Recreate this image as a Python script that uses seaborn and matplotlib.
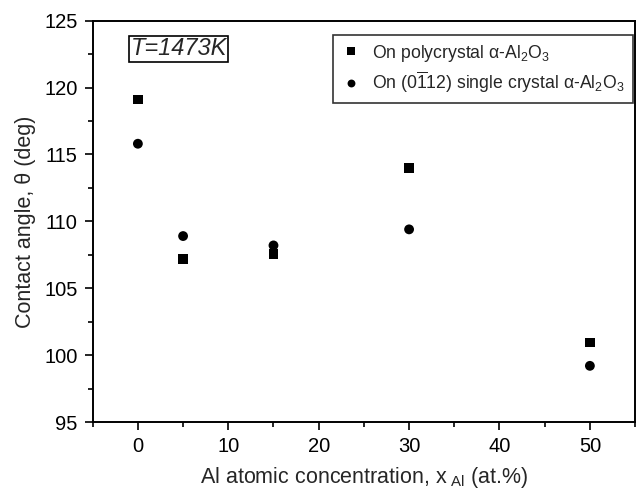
import matplotlib
matplotlib.use("Agg")
import matplotlib.pyplot as plt
import seaborn as sns
import pandas as pd
from matplotlib.ticker import MultipleLocator

# data
x_al = [0, 5, 15, 30, 50]
poly_angle = [119.1, 107.2, 107.55, 114.0, 100.95]
single_angle = [115.8, 108.9, 108.2, 109.4, 99.2]
label_poly = r'On polycrystal α-Al$_2$O$_3$'
label_single = r'On (0$\overline{1}$12) single crystal α-Al$_2$O$_3$'

sns.set_theme(style="ticks")
plt.rcParams['font.family'] = ['Liberation Sans', 'DejaVu Sans']
plt.rcParams['mathtext.fontset'] = 'custom'
plt.rcParams['mathtext.rm'] = 'Liberation Sans'
plt.rcParams['mathtext.it'] = 'Liberation Sans:italic'
plt.rcParams['mathtext.bf'] = 'Liberation Sans:bold'
plt.rcParams['mathtext.default'] = 'regular'

df = pd.DataFrame({
    'x': x_al + x_al,
    'y': poly_angle + single_angle,
    'series': [label_poly] * len(x_al) + [label_single] * len(x_al),
})

fig = plt.figure(figsize=(6.37, 4.94), dpi=100)
ax = fig.add_axes([0.1455, 0.1457, 0.8515, 0.8125])

sns.scatterplot(data=df, x='x', y='y', style='series',
                markers={label_poly: 's', label_single: 'o'},
                color='black', edgecolor='black', linewidth=0,
                s=50, ax=ax, legend=True)

ax.set_xlim(-5, 55)
ax.set_ylim(95, 125)
ax.xaxis.set_major_locator(MultipleLocator(10))
ax.xaxis.set_minor_locator(MultipleLocator(5))
ax.yaxis.set_major_locator(MultipleLocator(5))
ax.yaxis.set_minor_locator(MultipleLocator(2.5))
ax.tick_params(which='major', direction='out', length=6, width=1.2, labelsize=14.5,
               pad=5, colors='black')
ax.tick_params(which='minor', direction='out', length=3.5, width=1.2, colors='black')
for sp in ax.spines.values():
    sp.set_linewidth(1.4)
    sp.set_color('black')

ax.set_xlabel(r'Al atomic concentration, x$_{\ \mathrm{Al}}$ (at.%)', fontsize=15.5, labelpad=6)
ax.set_ylabel('Contact angle, θ (deg)', fontsize=15.5, labelpad=6)

leg = ax.legend(loc='upper right', bbox_to_anchor=(0.996, 0.965), borderaxespad=0,
                fontsize=12.7, frameon=True, fancybox=False, borderpad=0.45,
                handletextpad=0.6, labelspacing=0.35, handlelength=1.2, markerscale=0.8)
leg.get_frame().set_edgecolor('black')
leg.get_frame().set_linewidth(1.2)

ax.text(0.07, 0.93, 'T=1473K', transform=ax.transAxes, fontsize=17, style='italic',
        va='center', ha='left',
        bbox=dict(boxstyle='square,pad=0.06', facecolor='white', edgecolor='black', linewidth=1.2))

fig.savefig('out.png', dpi=100)
